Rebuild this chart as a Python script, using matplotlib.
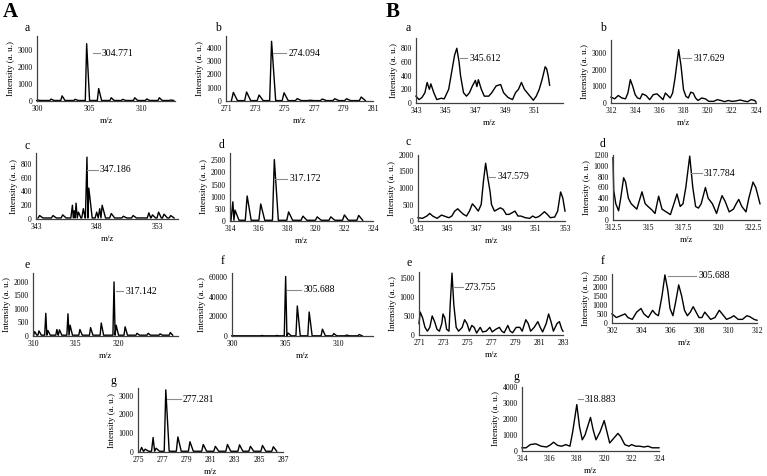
import matplotlib.pyplot as plt

plt.rcParams['font.family'] = ['Liberation Serif', 'DejaVu Serif']

W, H = 767, 476

# ---- A panels: peak positions / heights (stick-like spectra) ----
aa_mz = [300.1, 301.35, 302.4, 303.65, 304.75, 305.9, 307.1, 308.2, 309.35, 310.5, 311.7, 312.8]
aa_int = [50, 110, 300, 100, 3350, 730, 190, 100, 190, 120, 190, 60]

ab_mz = [271.5, 272.4, 273.25, 274.1, 274.95, 275.85, 276.7, 277.55, 278.4, 279.2, 280.2]
ab_int = [650, 680, 450, 4500, 620, 180, 60, 150, 170, 170, 300]

ac_mz = [343.3, 344.4, 345.2, 346.0, 346.15, 346.3, 346.5, 346.9, 347.2, 347.35, 348.0, 348.25,
         348.45, 349.2, 350.2, 351.0, 352.3, 352.6, 353.1, 353.55, 354.1]
ac_int = [50, 50, 60, 200, 120, 230, 100, 150, 900, 450, 100, 150, 200, 80, 40, 50, 90, 60, 100, 70, 50]

ad_mz = [314.2, 314.35, 315.2, 316.15, 317.1, 318.1, 319.1, 320.1, 321.05, 322.0, 323.0]
ad_int = [790, 450, 1030, 700, 2530, 375, 200, 170, 170, 250, 230]

ae_mz = [310.2, 310.7, 311.5, 311.75, 312.8, 313.1, 314.1, 314.35, 315.5, 316.75, 318.0, 319.5,
         319.75, 320.8, 322.2, 323.5, 324.9, 326.1]
ae_int = [160, 190, 840, 200, 240, 230, 820, 400, 240, 310, 480, 2000, 400, 340, 100, 100, 80, 130]

af_mz = [300.1, 302.8, 304.2, 305.06, 305.3, 306.16, 307.28, 308.53, 309.6, 310.8, 312.0]
af_int = [300, 500, 500, 61000, 3000, 30800, 24600, 7000, 2500, 1000, 1500]

ag_mz = [275.3, 275.6, 276.25, 276.5, 277.3, 278.3, 279.3, 280.4, 281.4, 282.4, 283.4, 284.3, 285.3, 286.2]
ag_int = [245, 150, 770, 200, 3300, 800, 545, 400, 300, 400, 380, 300, 350, 280]

# ---- B panels: continuous profiles ----
ba_mz = [343.0, 343.2, 343.4, 343.6, 343.75, 343.9, 344.0, 344.2, 344.4, 344.7, 344.9, 345.2, 345.4,
         345.6, 345.75, 345.9, 346.0, 346.2, 346.4, 346.6, 346.8, 347.0, 347.1, 347.2, 347.4, 347.6,
         347.9, 348.1, 348.4, 348.7, 348.9, 349.2, 349.5, 349.7, 349.9, 350.1, 350.3, 350.6, 350.9,
         351.1, 351.3, 351.5, 351.7, 351.8, 351.9, 352.0]
ba_int = [100, 50, 80, 150, 300, 200, 280, 150, 50, 70, 60, 200, 450, 700, 800, 600, 400, 150, 100,
          150, 250, 330, 240, 340, 200, 100, 100, 150, 250, 270, 150, 80, 50, 150, 200, 300, 200, 120,
          40, 100, 200, 350, 530, 500, 400, 260]

bb_mz = [312.0, 312.3, 312.6, 312.9, 313.2, 313.4, 313.6, 313.8, 314.0, 314.2, 314.4, 314.6, 314.9,
         315.2, 315.5, 315.8, 316.1, 316.3, 316.5, 316.7, 316.9, 317.1, 317.3, 317.6, 317.8, 318.0,
         318.2, 318.4, 318.6, 318.8, 319.0, 319.2, 319.5, 319.8, 320.1, 320.5, 320.8, 321.1, 321.4,
         321.7, 322.0, 322.3, 322.7, 323.0, 323.3, 323.6, 323.9, 324.0]
bb_int = [350, 250, 450, 300, 250, 600, 1400, 1000, 500, 300, 250, 550, 450, 200, 500, 550, 350, 200,
          600, 450, 300, 600, 1500, 3200, 2200, 800, 400, 300, 650, 600, 300, 150, 300, 250, 100, 100,
          200, 150, 80, 150, 100, 120, 180, 120, 80, 200, 150, 50]

bc_mz = [343.0, 343.3, 343.6, 343.8, 344.0, 344.3, 344.6, 344.9, 345.1, 345.3, 345.5, 345.7, 345.9,
         346.1, 346.3, 346.5, 346.7, 346.9, 347.1, 347.3, 347.45, 347.6, 347.75, 347.9, 348.0, 348.2,
         348.4, 348.6, 348.8, 349.0, 349.2, 349.4, 349.6, 349.8, 350.0, 350.3, 350.6, 350.8, 351.0,
         351.2, 351.4, 351.6, 351.8, 352.0, 352.3, 352.5, 352.7, 352.85, 353.0]
bc_int = [100, 80, 150, 230, 150, 80, 180, 130, 100, 150, 300, 370, 280, 200, 150, 300, 520, 420,
          300, 500, 1200, 1750, 1300, 900, 500, 300, 350, 400, 350, 200, 200, 250, 300, 150, 150, 100,
          80, 150, 100, 130, 200, 280, 200, 100, 120, 300, 880, 700, 300]

bd_mz = [312.5, 312.55, 312.7, 312.9, 313.05, 313.26, 313.4, 313.6, 313.8, 314.0, 314.2, 314.57,
         314.8, 315.0, 315.3, 315.5, 315.76, 316.0, 316.3, 316.6, 316.85, 317.07, 317.3, 317.5, 317.7,
         317.98, 318.2, 318.4, 318.6, 318.8, 319.1, 319.3, 319.6, 319.9, 320.1, 320.29, 320.5, 320.8,
         321.1, 321.3, 321.48, 321.7, 322.0, 322.2, 322.5, 322.7, 323.0]
bd_int = [1150, 550, 300, 170, 400, 780, 700, 400, 300, 250, 200, 520, 300, 250, 180, 120, 440, 200,
          150, 100, 300, 480, 250, 300, 600, 1180, 600, 250, 220, 300, 600, 400, 300, 120, 300, 450,
          350, 150, 200, 300, 380, 250, 150, 400, 700, 600, 300]

be_mz = [271.0, 271.1, 271.3, 271.5, 271.7, 271.9, 272.1, 272.3, 272.5, 272.7, 272.9, 273.0, 273.15,
         273.3, 273.5, 273.6, 273.75, 273.9, 274.1, 274.3, 274.6, 274.8, 275.0, 275.2, 275.4, 275.6,
         275.8, 276.1, 276.3, 276.6, 276.9, 277.1, 277.4, 277.7, 277.9, 278.1, 278.4, 278.6, 278.8,
         279.1, 279.4, 279.6, 279.9, 280.1, 280.3, 280.6, 280.9, 281.1, 281.3, 281.6, 281.8, 282.0,
         282.2, 282.5, 282.7, 282.9, 283.0]
be_int = [300, 600, 450, 200, 100, 200, 500, 350, 150, 100, 300, 550, 450, 150, 100, 800, 1620, 800,
          200, 100, 200, 400, 300, 100, 250, 200, 50, 200, 80, 100, 200, 80, 150, 200, 100, 60, 250,
          100, 60, 200, 200, 100, 400, 300, 100, 200, 350, 200, 80, 300, 550, 350, 100, 300, 350, 150, 100]

bf_mz = [302.0, 302.3, 302.6, 302.9, 303.1, 303.4, 303.7, 304.0, 304.2, 304.5, 304.8, 305.0, 305.2,
         305.45, 305.65, 305.85, 306.0, 306.2, 306.4, 306.6, 306.8, 307.0, 307.2, 307.4, 307.6, 307.8,
         308.0, 308.2, 308.4, 308.6, 308.8, 309.1, 309.4, 309.6, 309.9, 310.2, 310.4, 310.7, 311.0,
         311.3, 311.5, 311.8, 312.0]
bf_int = [500, 300, 400, 500, 300, 200, 600, 800, 500, 300, 700, 500, 400, 1500, 2650, 1800, 800,
          400, 1200, 2100, 1500, 700, 400, 600, 900, 600, 300, 300, 600, 400, 200, 300, 700, 500, 200,
          300, 400, 200, 200, 400, 350, 200, 150]

bg_mz = [314.0, 314.3, 314.6, 315.0, 315.4, 315.8, 316.1, 316.3, 316.6, 316.9, 317.2, 317.5, 317.7,
         318.0, 318.2, 318.4, 318.6, 319.0, 319.2, 319.4, 319.7, 320.0, 320.2, 320.4, 320.7, 321.0,
         321.2, 321.5, 321.8, 322.0, 322.3, 322.6, 322.9, 323.2, 323.5, 323.8, 324.0]
bg_int = [200, 200, 400, 450, 300, 250, 400, 550, 350, 300, 400, 300, 1200, 2900, 1500, 700, 1000,
          2100, 1300, 700, 1200, 1900, 1200, 500, 800, 1100, 900, 400, 300, 400, 300, 300, 250, 300,
          200, 200, 200]


def stick_line(mz, inten, base):
    # each peak drawn as a narrow rise and a slightly longer tail
    xs, ys = [], []
    for i, (m, h) in enumerate(zip(mz, inten)):
        left = m - 0.13
        if i > 0:
            left = max(left, (mz[i - 1] + m) / 2)
        right = m + 0.28
        if i < len(mz) - 1:
            right = min(right, (m + mz[i + 1]) / 2)
        xs += [left, m, right]
        ys += [base, h, base]
    return xs, ys


fig = plt.figure(figsize=(W / 100, H / 100), dpi=100)


def px_axes(l, t, r, b):
    return fig.add_axes([l / W, 1 - b / H, (r - l) / W, (b - t) / H])


# box (px), xlim, ylim, xticks, yticks, line data, annotation (label, line_x0, text_x, y), letter (x, y)
panels = [
    dict(box=(37, 36, 175, 101), xlim=(300, 313.2), ylim=(0, 3800), xt=[300, 305, 310],
         yt=[0, 1000, 2000, 3000], line=stick_line(aa_mz, aa_int, 30),
         ann=('304.771', 305.36, 306.22, 2800), let=('a', 27, 28)),
    dict(box=(226, 36, 373, 101), xlim=(271, 281), ylim=(0, 4900), xt=list(range(271, 282, 2)),
         yt=[0, 1000, 2000, 3000, 4000], line=stick_line(ab_mz, ab_int, 30),
         ann=('274.094', 274.22, 275.24, 3595), let=('b', 218, 28)),
    dict(box=(36, 153, 178, 219), xlim=(343, 354.7), ylim=(0, 960), xt=[343, 348, 353],
         yt=[0, 200, 400, 600, 800], line=stick_line(ac_mz, ac_int, 15),
         ann=('347.186', 347.23, 348.27, 713), let=('c', 27, 146)),
    dict(box=(230, 153, 373, 221), xlim=(314, 324), ylim=(0, 2800), xt=list(range(314, 325, 2)),
         yt=[0, 500, 1000, 1500, 2000, 2500], line=stick_line(ad_mz, ad_int, 30),
         ann=('317.172', 317.15, 318.15, 1730), let=('d', 222, 145)),
    dict(box=(33, 273, 178, 336), xlim=(310, 327), ylim=(0, 2330), xt=[310, 315, 320],
         yt=[0, 500, 1000, 1500, 2000], line=stick_line(ae_mz, ae_int, 30),
         ann=('317.142', 319.7, 320.8, 1664), let=('e', 27, 265)),
    dict(box=(232, 273, 373, 336), xlim=(300, 313.3), ylim=(0, 64600), xt=[300, 305, 310],
         yt=[0, 20000, 40000, 60000], line=stick_line(af_mz, af_int, 200),
         ann=('305.688', 305.22, 306.73, 47170), let=('f', 223, 261)),
    dict(box=(138, 388, 283, 452), xlim=(275, 287), ylim=(0, 3400), xt=list(range(275, 288, 2)),
         yt=[0, 1000, 2000, 3000], line=stick_line(ag_mz, ag_int, 40),
         ann=('277.281', 277.43, 278.7, 2800), let=('g', 113, 381)),
    dict(box=(416, 38, 563, 103), xlim=(343, 352.9), ylim=(0, 950), xt=list(range(343, 352, 2)),
         yt=[0, 200, 400, 600, 800], line=(ba_mz, ba_int),
         ann=('345.612', 345.96, 346.59, 653), let=('a', 408, 28)),
    dict(box=(611, 40, 756, 103), xlim=(312, 324), ylim=(0, 3780), xt=list(range(312, 325, 2)),
         yt=[0, 1000, 2000, 3000], line=(bb_mz, bb_int),
         ann=('317.629', 317.85, 318.81, 2680), let=('b', 603, 28)),
    dict(box=(418, 155, 565, 221), xlim=(343, 353), ylim=(0, 2000), xt=list(range(343, 354, 2)),
         yt=[0, 500, 1000, 1500, 2000], line=(bc_mz, bc_int),
         ann=('347.579', 347.85, 348.4, 1342), let=('c', 408, 142)),
    dict(box=(613, 155, 760, 220), xlim=(312.5, 323), ylim=(0, 1200),
         xt=[312.5, 315, 317.5, 320, 322.5], xfmt=True,
         yt=[0, 200, 400, 600, 800, 1000, 1200], line=(bd_mz, bd_int),
         ann=('317.784', 318.05, 319.0, 862), let=('d', 603, 144)),
    dict(box=(419, 272, 563, 335), xlim=(271, 283), ylim=(0, 1650), xt=list(range(271, 284, 2)),
         yt=[0, 500, 1000, 1500], line=(be_mz, be_int),
         ann=('273.755', 273.86, 274.83, 1250), let=('e', 409, 263)),
    dict(box=(612, 274, 757, 323), xlim=(302, 312), ylim=(0, 2700), xt=list(range(302, 313, 2)),
         yt=[0, 500, 1000, 1500, 2000, 2500], line=(bf_mz, bf_int),
         ann=('305.688', 305.88, 307.95, 2600), let=('f', 603, 261)),
    dict(box=(522, 387, 659, 451), xlim=(314, 324), ylim=(0, 4000), xt=list(range(314, 325, 2)),
         yt=[0, 1000, 2000, 3000, 4000], line=(bg_mz, bg_int),
         ann=('318.883', 318.1, 318.6, 3250), let=('g', 516, 377)),
]

for p in panels:
    ax = px_axes(*p['box'])
    xs, ys = p['line']
    ax.plot(xs, ys, color='black', lw=1.0, clip_on=False)
    ax.set_xlim(*p['xlim'])
    ax.set_ylim(*p['ylim'])
    ax.set_xticks(p['xt'])
    if p.get('xfmt'):
        ax.set_xticklabels(['%g' % v for v in p['xt']])
    ax.set_yticks(p['yt'])
    for s in ['top', 'right']:
        ax.spines[s].set_visible(False)
    for s in ['left', 'bottom']:
        ax.spines[s].set_color('#404040')
        ax.spines[s].set_linewidth(0.9)
    ax.tick_params(length=0, labelsize=5.5, pad=3)
    ax.set_ylabel('Intensity (a. u.)', fontsize=6.5, labelpad=2)
    ax.set_xlabel('m/z', fontsize=6.5, labelpad=3)
    lab, x0, xt, y = p['ann']
    ax.plot([x0, xt - 0.015 * (p['xlim'][1] - p['xlim'][0])], [y, y], color='#8c8c8c', lw=0.8)
    ax.text(xt, y, lab, fontsize=7, va='center', ha='left')
    lt, lx, ly = p['let']
    fig.text(lx / W, 1 - ly / H, lt, fontsize=8.5, ha='center', va='center')

fig.text(10 / W, 1 - 12 / H, 'A', fontsize=15, fontweight='bold', ha='center', va='center')
fig.text(393 / W, 1 - 12 / H, 'B', fontsize=15, fontweight='bold', ha='center', va='center')

fig.savefig('out.png', dpi=100)
